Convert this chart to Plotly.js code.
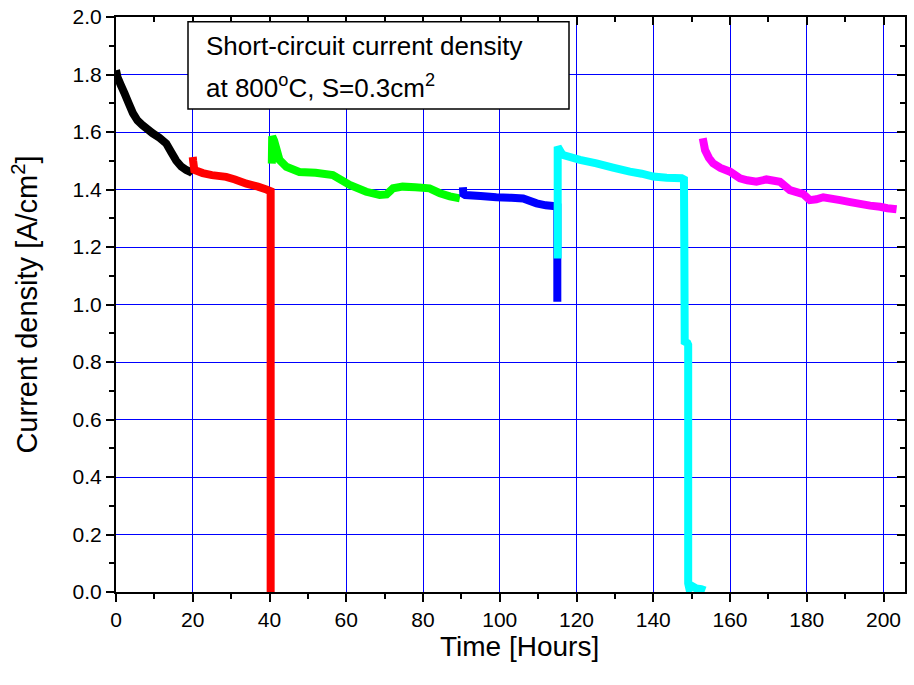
<!DOCTYPE html>
<html>
<head>
<meta charset="utf-8">
<script src="https://cdn.plot.ly/plotly-3.0.1.min.js"></script>
<style>html,body{margin:0;padding:0;background:#fff;}#chart{width:914px;height:685px;}</style>
</head>
<body>
<div id="chart"></div>
<script>
// Series (Time [h], Current density [A/cm2])
const blackX = [0, 0.4, 1.2, 2.2, 3.3, 4.4, 5.6, 6.9, 8.2, 9.5, 11.3, 13.1, 14.4, 15.7, 17.0, 18.3, 19.6, 20];
const blackY = [1.815, 1.79, 1.765, 1.735, 1.70, 1.666, 1.64, 1.624, 1.61, 1.596, 1.58, 1.56, 1.53, 1.50, 1.48, 1.468, 1.46, 1.455];

const redX = [20, 20.1, 20.4, 22.6, 25, 28.7, 31, 34, 37, 39.2, 40.3, 40.3];
const redY = [1.513, 1.50, 1.468, 1.457, 1.45, 1.444, 1.435, 1.42, 1.41, 1.40, 1.394, 0];

const greenX = [40.6, 40.7, 41.2, 42.6, 44.4, 47.8, 52, 56.5, 60.9, 65.2, 68.7, 70.5, 72.2, 74.7, 78, 81.7, 84.4, 87, 89.6];
const greenY = [1.49, 1.585, 1.57, 1.503, 1.479, 1.461, 1.458, 1.45, 1.416, 1.392, 1.381, 1.383, 1.404, 1.41, 1.408, 1.404, 1.387, 1.376, 1.369];

const blueX = [90.4, 90.5, 91, 95, 99.1, 103, 106.1, 109.6, 112, 113.9, 115, 115];
const blueY = [1.408, 1.385, 1.381, 1.377, 1.373, 1.371, 1.369, 1.352, 1.345, 1.343, 1.34, 1.01];

const cyanX = [115.1, 115.1, 116.1, 116.5, 120.9, 125.2, 129.5, 133.9, 137, 140, 143.5, 147.4, 148.0, 148.1, 148.2, 148.9, 149.1, 149.1, 149.4, 150.2, 151.2, 152.5, 153.5];
const cyanY = [1.16, 1.549, 1.526, 1.52, 1.503, 1.491, 1.476, 1.462, 1.455, 1.445, 1.441, 1.439, 1.435, 1.2, 0.871, 0.866, 0.86, 0.03, 0.012, 0.02, 0.012, 0.01, 0.005];

const magentaX = [152.9, 153.5, 154.5, 155.6, 157.5, 160, 162.6, 164.5, 166.9, 169.5, 173, 175.6, 179.1, 180.8, 182.5, 184.3, 188.7, 191, 193.9, 196.5, 199.1, 201, 203.4];
const magentaY = [1.578, 1.537, 1.51, 1.491, 1.475, 1.462, 1.439, 1.432, 1.427, 1.435, 1.427, 1.398, 1.384, 1.363, 1.366, 1.373, 1.363, 1.357, 1.35, 1.344, 1.34, 1.335, 1.331];

const xTicks = [0, 20, 40, 60, 80, 100, 120, 140, 160, 180, 200];
const yTicks = [0.0, 0.2, 0.4, 0.6, 0.8, 1.0, 1.2, 1.4, 1.6, 1.8, 2.0];

const xTitle = 'Time [Hours]';
const yTitle = 'Current density [A/cm<sup>2</sup>]';
const noteLine1 = 'Short-circuit current density';
const noteLine2 = 'at 800<sup>o</sup>C, S=0.3cm<sup>2</sup>';

const series = [
  {x: blackX, y: blackY, c: '#000000'},
  {x: redX, y: redY, c: '#ff0000'},
  {x: greenX, y: greenY, c: '#00ff00'},
  {x: blueX, y: blueY, c: '#0000ff'},
  {x: cyanX, y: cyanY, c: '#00ffff'},
  {x: magentaX, y: magentaY, c: '#ff00ff'}
];

const traces = series.map(s => ({
  type: 'scatter', mode: 'lines', x: s.x, y: s.y,
  line: {color: s.c, width: 8, simplify: false}, hoverinfo: 'skip', showlegend: false
}));
traces.push({type:'scatter', mode:'lines', x:[], y:[], xaxis:'x2', yaxis:'y2', showlegend:false, hoverinfo:'skip'});

const font = 'Arial, "Liberation Sans", sans-serif';
const xr = [0, 205.6], yr = [0, 2.0];
// plot area in pixels: x 116..905, y 17..592
const px = v => (v - 116) / 789;
const py = v => 1 - (v - 17) / 575;

const layout = {
  width: 914, height: 685,
  margin: {l: 116, r: 9, t: 17, b: 93},
  paper_bgcolor: '#fff', plot_bgcolor: '#fff',
  font: {family: font, color: '#000'},
  showlegend: false,
  xaxis: {
    range: xr, tickvals: xTicks, ticktext: xTicks.map(String),
    showgrid: true, gridcolor: '#0000ff', gridwidth: 1,
    zeroline: false, showline: true, linecolor: '#000', linewidth: 2,
    ticks: 'outside', ticklen: 8, tickwidth: 2, tickcolor: '#000',
    minor: {dtick: 10, tick0: 0, ticks: 'outside', ticklen: 5, tickwidth: 2, tickcolor: '#000', showgrid: false},
    tickfont: {size: 21, family: font}
  },
  yaxis: {
    range: yr, tickvals: yTicks, ticktext: yTicks.map(v => v.toFixed(1)),
    showgrid: true, gridcolor: '#0000ff', gridwidth: 1,
    zeroline: false, showline: true, linecolor: '#000', linewidth: 2,
    ticks: 'outside', ticklen: 8, tickwidth: 2, tickcolor: '#000',
    minor: {dtick: 0.1, tick0: 0, ticks: 'outside', ticklen: 5, tickwidth: 2, tickcolor: '#000', showgrid: false},
    tickfont: {size: 21, family: font},
    title: {text: yTitle, font: {size: 29, family: font}, standoff: 26}
  },
  xaxis2: {
    overlaying: 'x', side: 'top', range: xr, tickvals: xTicks, showticklabels: false,
    showgrid: false, zeroline: false, showline: true, linecolor: '#000', linewidth: 2,
    ticks: 'inside', ticklen: 8, tickwidth: 2, tickcolor: '#000',
    minor: {dtick: 10, tick0: 0, ticks: 'inside', ticklen: 5, tickwidth: 2, tickcolor: '#000'}
  },
  yaxis2: {
    overlaying: 'y', side: 'right', range: yr, tickvals: yTicks, showticklabels: false,
    showgrid: false, zeroline: false, showline: true, linecolor: '#000', linewidth: 2,
    ticks: 'inside', ticklen: 8, tickwidth: 2, tickcolor: '#000',
    minor: {dtick: 0.1, tick0: 0, ticks: 'inside', ticklen: 5, tickwidth: 2, tickcolor: '#000'}
  },
  shapes: [{
    type: 'rect', xref: 'paper', yref: 'paper',
    x0: px(188), x1: px(569), y0: py(109), y1: py(21.7),
    fillcolor: '#fff', line: {color: '#000', width: 1.5}, layer: 'above'
  }],
  annotations: [
    {xref: 'paper', yref: 'paper', x: px(204), y: py(46), xanchor: 'left', yanchor: 'middle',
     showarrow: false, text: noteLine1, font: {size: 26, family: font, color: '#000'}},
    {xref: 'paper', yref: 'paper', x: px(204), y: py(87), xanchor: 'left', yanchor: 'middle',
     showarrow: false, text: noteLine2, font: {size: 26, family: font, color: '#000'}},
    {xref: 'paper', yref: 'paper', x: px(519), y: py(646), xanchor: 'center', yanchor: 'middle',
     showarrow: false, text: xTitle, font: {size: 28, family: font, color: '#000'}}
  ]
};

Plotly.newPlot('chart', traces, layout, {staticPlot: true, displayModeBar: false});
</script>
</body>
</html>
